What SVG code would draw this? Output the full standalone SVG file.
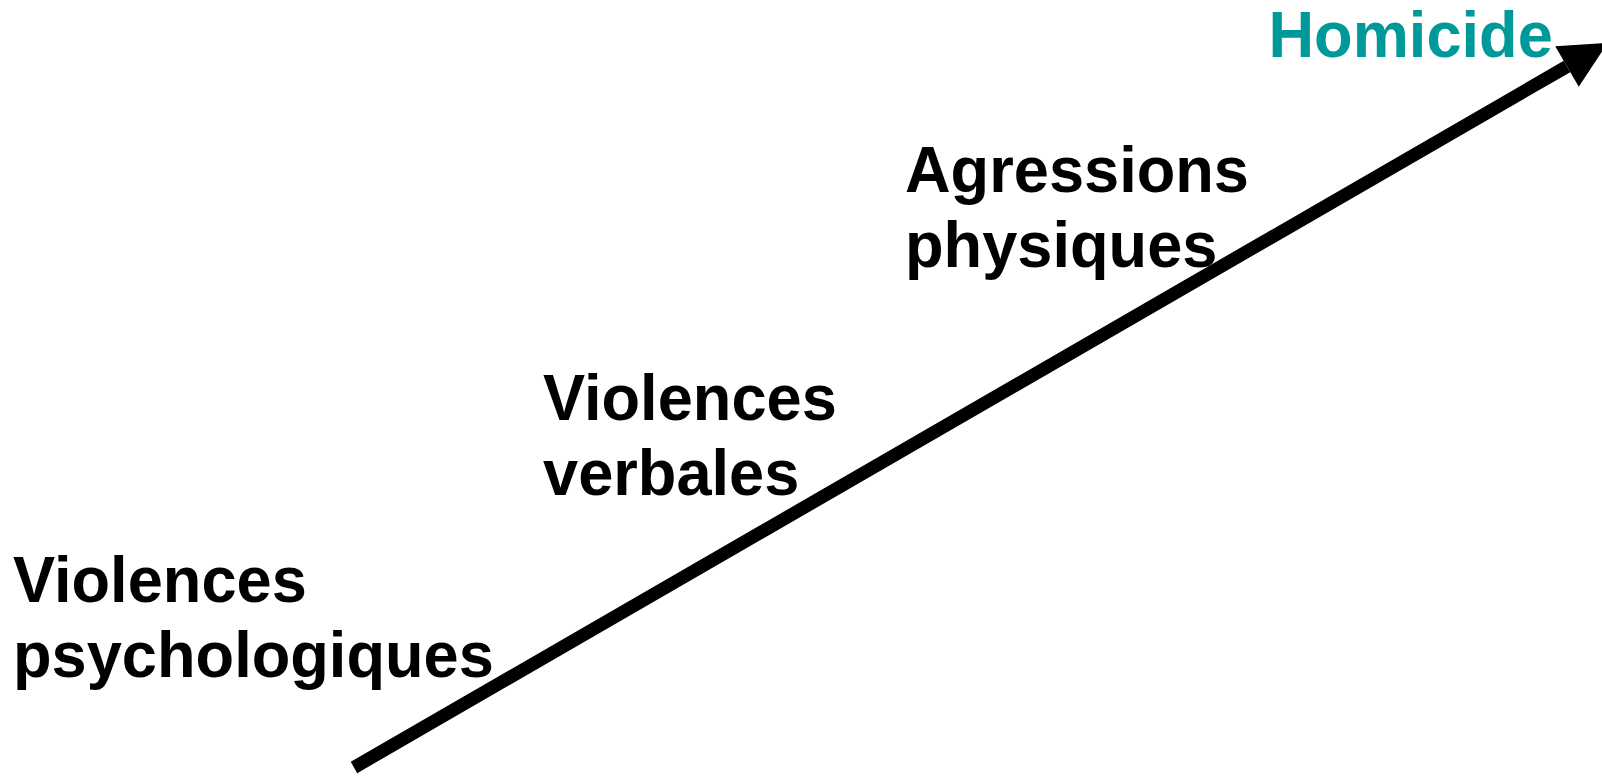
<svg xmlns="http://www.w3.org/2000/svg" width="1602" height="777" viewBox="0 0 1602 777">
  <defs>
    <style>
      .lbl { font-family: "Liberation Sans", Arial, sans-serif; font-weight: bold; font-size: 65px; fill: #000000; }
      .end { fill: #009999; }
      .arrow { stroke: #000000; stroke-width: 13; fill: none; }
    </style>
    <marker id="head" markerUnits="userSpaceOnUse" markerWidth="48" markerHeight="48" refX="0" refY="23.5" orient="auto" overflow="visible">
      <path d="M0,0 L47,23.5 L0,47 Z" fill="#000000"/>
    </marker>
  </defs>
  <rect width="1602" height="777" fill="#ffffff"/>
  <g id="connectors">
    <line class="arrow" x1="354" y1="767.5" x2="1567" y2="66.5" marker-end="url(#head)"/>
  </g>
  <g id="node-psychologiques" transform="translate(13 0) scale(0.972 1)">
    <text class="lbl" x="0" y="601.7">Violences</text>
    <text class="lbl" x="0" y="676.7">psychologiques</text>
  </g>
  <g id="node-verbales" transform="translate(543 0) scale(0.972 1)">
    <text class="lbl" x="0" y="420">Violences</text>
    <text class="lbl" x="0" y="495">verbales</text>
  </g>
  <g id="node-physiques" transform="translate(905 0) scale(0.972 1)">
    <text class="lbl" x="0" y="191.7">Agressions</text>
    <text class="lbl" x="0" y="267">physiques</text>
  </g>
  <g id="node-homicide" transform="translate(1268.5 0) scale(0.972 1)">
    <text class="lbl end" x="0" y="56.7">Homicide</text>
  </g>
</svg>
